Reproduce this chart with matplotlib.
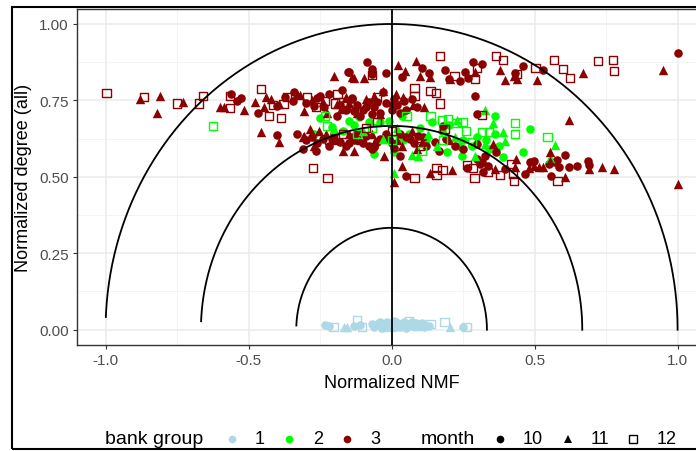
import numpy as np
import matplotlib.pyplot as plt
from matplotlib.lines import Line2D
from matplotlib.patches import Rectangle

plt.rcParams['font.family'] = ['Liberation Sans', 'DejaVu Sans']

# bank group 1 (normalized NMF, normalized degree)
g1_m10 = [(-0.234, 0.016), (-0.22, 0.013), (-0.133, 0.013), (-0.11, 0.014), (-0.07, 0.018),
          (-0.06, 0.01), (-0.05, 0.015), (-0.045, 0.02), (-0.04, 0.025), (-0.035, 0.005),
          (-0.03, 0.02), (-0.025, 0.012), (-0.015, 0.025), (-0.01, 0.012), (0.0, 0.022),
          (0.005, 0.016), (0.01, 0.03), (0.015, 0.024), (0.02, 0.015), (0.025, 0.02),
          (0.03, 0.008), (0.035, 0.012), (0.04, 0.018), (0.045, 0.026), (0.05, 0.006),
          (0.055, 0.02), (0.06, 0.013), (0.065, 0.016), (0.07, 0.025), (0.075, 0.012),
          (0.08, 0.02), (0.085, 0.022), (0.095, 0.02), (0.1, 0.015), (0.105, 0.022),
          (0.11, 0.018), (0.115, 0.01), (0.13, 0.012), (0.248, 0.01)]
g1_m11 = [(-0.168, 0.01), (-0.157, 0.01), (-0.055, 0.02), (-0.02, 0.018), (0.0, 0.01),
          (0.05, 0.022), (0.09, 0.012), (0.12, 0.02), (0.203, 0.01)]
g1_m12 = [(-0.203, 0.01), (-0.12, 0.03), (-0.105, 0.01), (-0.03, 0.01), (0.02, 0.012),
          (0.06, 0.028), (0.136, 0.02), (0.185, 0.026), (0.262, 0.01)]

# bank group 2
g2_m10 = [(-0.25, 0.692), (-0.27, 0.64), (-0.21, 0.663), (-0.17, 0.65), (-0.15, 0.683),
          (-0.13, 0.67), (-0.115, 0.696), (-0.08, 0.68), (-0.06, 0.601), (-0.063, 0.575),
          (-0.042, 0.68), (-0.01, 0.683), (0.007, 0.58), (0.035, 0.70), (0.04, 0.62),
          (0.06, 0.64), (0.10, 0.66), (0.12, 0.62), (0.14, 0.68), (0.175, 0.65),
          (0.192, 0.58), (0.2, 0.67), (0.234, 0.601), (0.245, 0.569), (0.25, 0.62),
          (0.28, 0.60), (0.30, 0.63), (0.33, 0.62), (0.34, 0.592), (0.36, 0.70),
          (0.36, 0.64), (0.374, 0.601), (0.388, 0.565), (0.46, 0.582), (0.483, 0.657)]
g2_m11 = [(-0.2, 0.655), (-0.1, 0.65), (-0.03, 0.625), (0.007, 0.512), (0.02, 0.66),
          (0.07, 0.57), (0.094, 0.569), (0.129, 0.64), (0.16, 0.60), (0.22, 0.63),
          (0.227, 0.686), (0.29, 0.569), (0.325, 0.719), (0.325, 0.608), (0.353, 0.676),
          (0.39, 0.647), (0.395, 0.618), (0.553, 0.562), (0.573, 0.605)]
g2_m12 = [(-0.626, 0.667), (-0.234, 0.70), (-0.226, 0.667), (-0.12, 0.64), (-0.07, 0.66),
          (0.0, 0.62), (0.052, 0.70), (0.105, 0.585), (0.136, 0.70), (0.175, 0.686),
          (0.18, 0.62), (0.196, 0.69), (0.227, 0.676), (0.248, 0.68), (0.26, 0.65),
          (0.28, 0.614), (0.315, 0.647), (0.34, 0.647), (0.43, 0.676), (0.43, 0.64), (0.545, 0.63)]

# bank group 3
g3_m10 = [(-0.56, 0.77), (-0.54, 0.748), (-0.528, 0.757), (-0.468, 0.71), (-0.40, 0.733),
          (-0.40, 0.638), (-0.374, 0.762), (-0.343, 0.778), (-0.346, 0.748), (-0.30, 0.74),
          (-0.273, 0.733), (-0.262, 0.757), (-0.25, 0.763), (-0.265, 0.585), (-0.237, 0.728),
          (-0.22, 0.77), (-0.175, 0.784), (-0.154, 0.842), (-0.14, 0.757), (-0.15, 0.842),
          (-0.087, 0.875), (-0.07, 0.853), (-0.068, 0.836), (-0.02, 0.84), (0.035, 0.826),
          (0.108, 0.856), (0.13, 0.84), (0.185, 0.85), (0.2, 0.82), (0.24, 0.814),
          (0.255, 0.843), (0.266, 0.823), (0.283, 0.875), (0.315, 0.87), (0.43, 0.84),
          (0.46, 0.863), (0.53, 0.848), (1.0, 0.905), (0.29, 0.765), (0.297, 0.706),
          (-0.14, 0.755), (-0.12, 0.735), (-0.10, 0.72), (-0.08, 0.745), (-0.06, 0.73),
          (-0.04, 0.71), (-0.03, 0.778), (-0.02, 0.74), (0.0, 0.72), (0.02, 0.735),
          (0.042, 0.748), (0.07, 0.755), (0.05, 0.72), (-0.11, 0.70), (-0.16, 0.72),
          (-0.19, 0.70), (0.09, 0.73), (-0.18, 0.735), (-0.09, 0.73), (-0.05, 0.745),
          (0.01, 0.755), (-0.13, 0.715), (0.03, 0.71), (-0.07, 0.705),
          (-0.33, 0.64), (-0.31, 0.59), (-0.30, 0.62), (-0.28, 0.63), (-0.26, 0.61),
          (-0.24, 0.625), (-0.22, 0.60), (-0.21, 0.625), (-0.20, 0.64), (-0.18, 0.615),
          (-0.16, 0.60), (-0.15, 0.61), (-0.14, 0.63), (-0.13, 0.62), (-0.12, 0.645),
          (-0.10, 0.61), (-0.09, 0.635), (-0.08, 0.601), (-0.07, 0.59), (-0.06, 0.598),
          (-0.05, 0.615), (-0.04, 0.625), (-0.02, 0.64), (-0.01, 0.625), (0.0, 0.61),
          (0.01, 0.595), (0.028, 0.569), (0.03, 0.64), (0.05, 0.63), (0.063, 0.624),
          (0.08, 0.61), (0.094, 0.634), (0.11, 0.63), (0.12, 0.60), (0.15, 0.614),
          (0.164, 0.585), (0.18, 0.667), (0.19, 0.624), (0.22, 0.60), (0.25, 0.59),
          (0.297, 0.608), (0.325, 0.569), (0.30, 0.559), (0.364, 0.58),
          (0.05, 0.504), (0.262, 0.529), (0.308, 0.542), (0.315, 0.548), (0.32, 0.515),
          (0.337, 0.535), (0.395, 0.526), (0.465, 0.51), (0.483, 0.548), (0.497, 0.553),
          (0.55, 0.542), (0.57, 0.549), (0.577, 0.555), (0.556, 0.504), (0.584, 0.533),
          (0.605, 0.572), (0.62, 0.533), (0.647, 0.536), (0.688, 0.553), (0.69, 0.54)]
g3_m11 = [(-0.88, 0.755), (-0.81, 0.765), (-0.82, 0.71), (-0.73, 0.745), (-0.60, 0.73),
          (-0.585, 0.73), (-0.515, 0.72), (-0.478, 0.745), (-0.455, 0.647), (-0.447, 0.73),
          (-0.44, 0.76), (-0.42, 0.755), (-0.395, 0.737), (-0.395, 0.614), (-0.332, 0.772),
          (-0.32, 0.767), (-0.308, 0.715), (-0.308, 0.635), (-0.287, 0.657), (-0.28, 0.752),
          (-0.255, 0.651), (-0.24, 0.745), (-0.227, 0.71), (-0.203, 0.829), (-0.192, 0.738),
          (-0.178, 0.722), (-0.15, 0.74), (-0.14, 0.825), (-0.133, 0.823), (-0.098, 0.823),
          (-0.09, 0.755), (0.024, 0.866), (0.046, 0.846), (0.087, 0.88), (0.1, 0.83),
          (0.136, 0.826), (0.203, 0.82), (0.29, 0.842), (0.378, 0.85), (0.396, 0.817),
          (0.427, 0.83), (0.437, 0.82), (0.51, 0.817), (0.668, 0.84), (0.95, 0.85),
          (1.0, 0.477), (0.619, 0.686), (0.115, 0.728), (-0.03, 0.78), (0.017, 0.772),
          (0.075, 0.735), (-0.04, 0.705), (-0.12, 0.71), (0.0, 0.745), (-0.16, 0.76),
          (-0.06, 0.765), (0.04, 0.76),
          (-0.31, 0.63), (-0.27, 0.60), (-0.23, 0.64), (-0.19, 0.62), (-0.17, 0.585),
          (-0.15, 0.64), (-0.13, 0.585), (-0.11, 0.62), (-0.07, 0.64), (-0.06, 0.61),
          (-0.028, 0.569), (0.02, 0.62), (0.035, 0.601), (0.09, 0.59),
          (0.035, 0.536), (0.105, 0.614), (0.07, 0.65), (0.2, 0.62), (0.356, 0.608),
          (0.007, 0.484), (0.136, 0.512), (0.21, 0.523), (0.36, 0.526), (0.434, 0.559),
          (0.43, 0.533), (0.48, 0.53), (0.497, 0.536), (0.514, 0.533), (0.53, 0.533),
          (0.553, 0.58), (0.553, 0.553), (0.605, 0.50), (0.69, 0.526), (0.734, 0.533),
          (0.776, 0.526)]
g3_m12 = [(-0.997, 0.775), (-0.867, 0.76), (-0.75, 0.74), (-0.675, 0.74), (-0.66, 0.765),
          (-0.566, 0.765), (-0.566, 0.725), (-0.458, 0.788), (-0.43, 0.70), (-0.416, 0.735),
          (-0.388, 0.693), (-0.378, 0.738), (-0.367, 0.76), (-0.297, 0.76), (-0.265, 0.728),
          (-0.276, 0.528), (-0.224, 0.497), (-0.234, 0.748), (-0.189, 0.772), (-0.197, 0.74),
          (-0.168, 0.733), (-0.13, 0.73), (-0.17, 0.745), (-0.068, 0.832), (-0.052, 0.76),
          (0.08, 0.765), (0.168, 0.895), (0.22, 0.83), (0.293, 0.82), (0.3, 0.855),
          (0.364, 0.895), (0.39, 0.882), (0.44, 0.835), (0.503, 0.856), (0.567, 0.882),
          (0.598, 0.853), (0.623, 0.823), (0.723, 0.88), (0.773, 0.882), (0.777, 0.846),
          (0.315, 0.703), (0.08, 0.79), (0.136, 0.782), (0.154, 0.775), (0.168, 0.74),
          (0.08, 0.495), (0.157, 0.528), (0.157, 0.505), (0.178, 0.523), (0.263, 0.54),
          (0.29, 0.497), (0.285, 0.528), (0.336, 0.515), (0.38, 0.505), (0.416, 0.542),
          (0.427, 0.487), (0.426, 0.508), (0.58, 0.487), (0.185, 0.657), (-0.17, 0.64),
          (-0.22, 0.62), (-0.09, 0.66), (0.0, 0.65), (0.1, 0.6), (-0.05, 0.68)]

groups = ['1', '2', '3']
months = ['10', '11', '12']
group_colors = {'1': '#ADD8E6', '2': '#00FF00', '3': '#8B0000'}
points = {
    ('1', '10'): g1_m10, ('1', '11'): g1_m11, ('1', '12'): g1_m12,
    ('2', '10'): g2_m10, ('2', '11'): g2_m11, ('2', '12'): g2_m12,
    ('3', '10'): g3_m10, ('3', '11'): g3_m11, ('3', '12'): g3_m12,
}

fig = plt.figure(figsize=(6.96, 4.52), dpi=100)
ax = fig.add_axes([77 / 696, 106 / 452, 629.2 / 696, 336.3 / 452])

for m in months:
    for g in groups:
        xy = np.array(points[(g, m)])
        c = group_colors[g]
        if m == '10':
            ax.scatter(xy[:, 0], xy[:, 1], s=38, marker='o', color=c, linewidths=0, zorder=3)
        elif m == '11':
            ax.scatter(xy[:, 0], xy[:, 1], s=46, marker='^', color=c, linewidths=0, zorder=3)
        else:
            ax.scatter(xy[:, 0], xy[:, 1], s=34, marker='s', facecolors='none',
                       edgecolors=c, linewidths=1.0, zorder=3)

# reference semicircles and centre line
theta = np.linspace(0, 3.1, 300)
for r in [1 / 3, 2 / 3, 1]:
    ax.plot(r * np.cos(theta), r * np.sin(theta), color='black', lw=1.3, zorder=4)
ax.axvline(0, color='black', lw=1.3, zorder=4)

ax.set_xlim(-1.1, 1.1)
ax.set_ylim(-0.05, 1.05)
ax.set_xticks([-1.0, -0.5, 0.0, 0.5, 1.0])
ax.set_xticklabels(['-1.0', '-0.5', '0.0', '0.5', '1.0'])
ax.set_yticks([0, 0.25, 0.5, 0.75, 1.0])
ax.set_yticklabels(['0.00', '0.25', '0.50', '0.75', '1.00'])
ax.set_xticks([-0.75, -0.25, 0.25, 0.75], minor=True)
ax.set_yticks([0.125, 0.375, 0.625, 0.875], minor=True)
ax.grid(which='major', color='#EBEBEB', lw=1.1, zorder=0)
ax.grid(which='minor', color='#F2F2F2', lw=0.6, zorder=0)
ax.set_axisbelow(True)
ax.tick_params(which='major', length=3, width=0.8, color='#333333',
               labelsize=11, labelcolor='#4D4D4D', pad=3)
ax.tick_params(which='minor', length=0)
for sp in ax.spines.values():
    sp.set_color('#333333')
    sp.set_linewidth(1.0)

ax.set_xlabel('Normalized NMF', fontsize=13, labelpad=5)
ax.set_ylabel('Normalized degree (all)', fontsize=13, labelpad=5)

# legend along the bottom
ly = (452 - 440) / 452
def px(x):
    return x / 696

fig.text(px(105), ly, 'bank group', fontsize=14, va='center', ha='left')
for g, mx, tx in zip(groups, [232, 289, 347], [260, 318, 375]):
    fig.add_artist(Line2D([px(mx)], [ly], transform=fig.transFigure, marker='o',
                          markersize=5.5, color=group_colors[g], markeredgewidth=0, ls='none'))
    fig.text(px(tx), ly, g, fontsize=13, va='center', ha='center')

fig.text(px(421), ly, 'month', fontsize=14, va='center', ha='left')
for mk, mx, tx, lab in zip(['o', '^', 's'], [500, 568, 633], [533, 600, 667], months):
    if mk == 's':
        h = Line2D([px(mx)], [ly], transform=fig.transFigure, marker='s', markersize=5.5,
                   markerfacecolor='none', markeredgecolor='black', markeredgewidth=1.0, ls='none')
    else:
        h = Line2D([px(mx)], [ly], transform=fig.transFigure, marker=mk,
                   markersize=5.5 if mk == 'o' else 6.2, color='black', markeredgewidth=0, ls='none')
    fig.add_artist(h)
    fig.text(px(tx), ly, lab, fontsize=13, va='center', ha='center')

# outer frame
fig.add_artist(Rectangle((12 / 696, 2 / 452), 1.0, 442 / 452, transform=fig.transFigure,
                         fill=False, edgecolor='black', lw=1.5))

fig.savefig('out.png', dpi=100)
